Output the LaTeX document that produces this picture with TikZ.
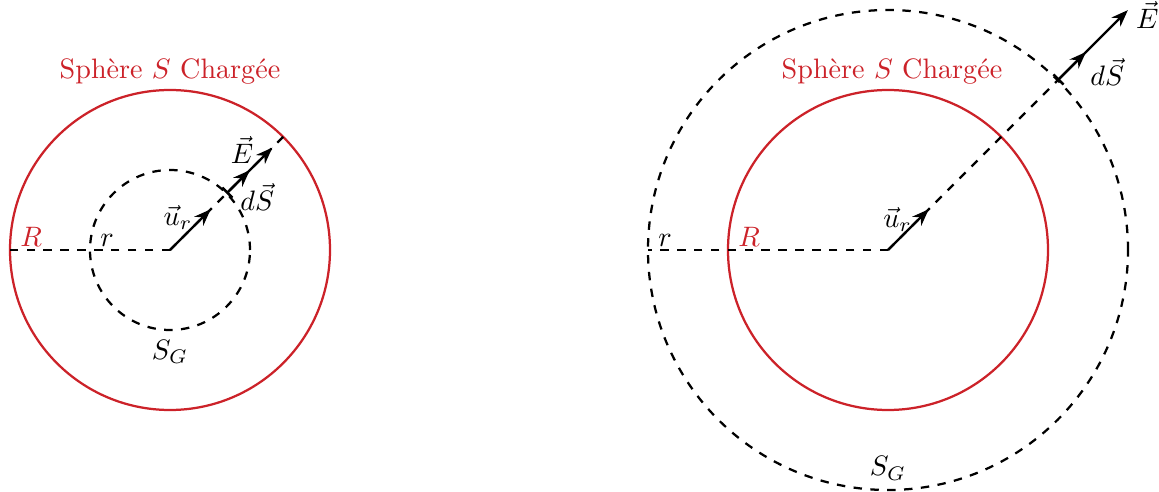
\documentclass[tikz,border=0pt]{standalone}
\usepackage{amsmath}
\usepackage{xcolor}
\definecolor{chargered}{RGB}{204,34,41}
\usepackage{tikz}
\usetikzlibrary{arrows.meta,calc}

\begin{document}
\begin{tikzpicture}[
  sphere/.style={chargered, thick},
  gauss/.style={black, thick, dashed},
  vec/.style={black, thick, -{Stealth[length=6pt,width=4.5pt]}},
  surfvec/.style={black, thick, {Bar[width=5pt]}-{Stealth[length=6pt,width=4.5pt]}},
  lbl/.style={inner sep=1pt, xshift=2.5pt}
]
\useasboundingbox (-2.125,-3.025) rectangle (12.3625,3.125);

% === Left: Gauss surface inside the sphere (r < R) ===
\coordinate (O1) at (0,0);
\coordinate (R1) at (-2,0);
\coordinate (r1) at (-1,0);
\coordinate (B1) at (0,-1);
\coordinate (G1) at (45:1);
\coordinate (T1) at (45:2);
\coordinate (U1) at (45:0.72);
\coordinate (D1) at (45:1.41);
\coordinate (E1) at (45:1.81);

\draw[sphere] (O1) circle (2);
\draw[gauss] (O1) circle (1);
\draw[gauss] (O1) -- (R1);
\draw[gauss] (O1) -- (T1);
\draw[vec] (O1) -- (U1);
\draw[surfvec] (G1) -- (D1);
\draw[surfvec] (G1) -- (E1);

\node[chargered] (title1) at (0,2.23) {Sphère $S$ Chargée};
\node[chargered, lbl, above right] (lR1) at (R1) {$R$};
\node[lbl, above right] (lr1) at (r1) {$r$};
\node[below] (lS1) at (B1) {$S_G$};
\node (lu1) at (0.1,0.41) {$\vec{u}_r$};
\node (lE1) at (0.9,1.25) {$\vec{E}$};
\node (ldS1) at (1.09,0.66) {$d\vec{S}$};

% === Right: Gauss surface outside the sphere (r > R) ===
\coordinate (O2) at (8.975,0);
\coordinate (R2) at ($(O2)+(-2,0)$);
\coordinate (r2) at ($(O2)+(-3,0)$);
\coordinate (B2) at ($(O2)+(0,-3)$);
\coordinate (G2) at ($(O2)+(45:3)$);
\coordinate (U2) at ($(O2)+(45:0.72)$);
\coordinate (D2) at ($(O2)+(45:3.5)$);
\coordinate (E2) at ($(O2)+(45:4.24)$);

\draw[sphere] (O2) circle (2);
\draw[gauss] (O2) circle (3);
\draw[gauss] (O2) -- (r2);
\draw[gauss] (O2) -- (G2);
\draw[vec] (O2) -- (U2);
\draw[surfvec] (G2) -- (D2);
\draw[surfvec] (G2) -- (E2);

\node[chargered] (title2) at ($(O2)+(0.05,2.23)$) {Sphère $S$ Chargée};
\node[chargered, lbl, above right] (lR2) at (R2) {$R$};
\node[lbl, above right] (lr2) at (r2) {$r$};
\node[above] (lS2) at (B2) {$S_G$};
\node (lu2) at ($(O2)+(0.12,0.38)$) {$\vec{u}_r$};
\node (lE2) at ($(O2)+(3.24,2.94)$) {$\vec{E}$};
\node (ldS2) at ($(O2)+(2.74,2.23)$) {$d\vec{S}$};

\end{tikzpicture}
\end{document}
